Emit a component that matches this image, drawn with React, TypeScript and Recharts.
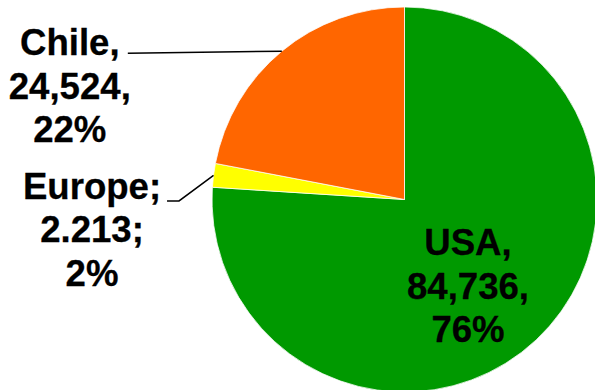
import type { CSSProperties, ReactNode } from "react";
import { Cell, Pie, PieChart } from "recharts";

// Slice order follows the chart: clockwise from 12 o'clock.
const categories = ["USA", "Europe", "Chile"];
const values = [84736, 2213, 24524];
const sliceColors = ["#009900", "#FFFF00", "#FF6600"];
// Excel label text uses a different list separator for the Europe label.
const separators = [",", ";", ","];
const thousandMarks = [",", ".", ","];

const data = categories.map((name, i) => ({ name, value: values[i] }));

const RAD = Math.PI / 180;
const LINE_HEIGHT = 43.5;

// Where each data label sits, relative to the slice's outer edge point
// (or to the pie centre for the label drawn inside its slice).
type LabelLayout =
  | { inside: true; dx: number; dy: number }
  | {
      inside: false;
      path: [number, number][];
      textDx: number;
      textDy: number;
    };

const labelLayout: LabelLayout[] = [
  { inside: true, dx: 63.5, dy: 55.5 },
  {
    inside: false,
    path: [
      [-34.5, 25.6],
      [-46.5, 25.6],
    ],
    textDx: -121.5,
    textDy: 23.6,
  },
  {
    inside: false,
    path: [[-154, 2]],
    textDx: -212,
    textDy: 4,
  },
];

function formatValue(v: number, mark: string): string {
  return String(v).replace(/\B(?=(\d{3})+(?!\d))/g, mark);
}

function renderLabel(props: any): ReactNode {
  const { cx, cy, midAngle, outerRadius, percent, index } = props;
  const sep = separators[index];
  const lines = [
    `${categories[index]}${sep}`,
    `${formatValue(values[index], thousandMarks[index])}${sep}`,
    `${Math.round(percent * 100)}%`,
  ];
  const layout = labelLayout[index];
  const ex = cx + outerRadius * Math.cos(-midAngle * RAD);
  const ey = cy + outerRadius * Math.sin(-midAngle * RAD);

  let tx: number;
  let ty: number;
  let leader: ReactNode = null;
  if (layout.inside) {
    tx = cx + layout.dx;
    ty = cy + layout.dy;
  } else {
    tx = ex + layout.textDx;
    ty = ey + layout.textDy;
    const pts = [[ex, ey], ...layout.path.map(([dx, dy]) => [ex + dx, ey + dy])];
    leader = (
      <polyline
        points={pts.map((p) => p.join(",")).join(" ")}
        fill="none"
        stroke="#000"
        strokeWidth={1.5}
      />
    );
  }

  return (
    <g key={`label-${index}`}>
      {leader}
      <text
        x={tx}
        y={ty}
        textAnchor="middle"
        style={styles.label}
        fill="#000"
        stroke="#000"
        strokeWidth={0.3}
      >
        {lines.map((line, i) => (
          <tspan key={i} x={tx} dy={i === 0 ? 0 : LINE_HEIGHT}>
            {line}
          </tspan>
        ))}
      </text>
    </g>
  );
}

export default function App() {
  return (
    <div style={styles.page}>
      <PieChart width={595} height={390} margin={{ top: 0, right: 0, bottom: 0, left: 0 }}>
        <Pie
          data={data}
          dataKey="value"
          nameKey="name"
          cx={404.5}
          cy={199.5}
          outerRadius={192.5}
          startAngle={90}
          endAngle={-270}
          stroke="#ffffff"
          strokeWidth={0.75}
          label={renderLabel}
          labelLine={false}
          isAnimationActive={false}
        >
          {data.map((entry, i) => (
            <Cell key={entry.name} fill={sliceColors[i]} />
          ))}
        </Pie>
      </PieChart>
    </div>
  );
}

const styles: Record<string, CSSProperties> = {
  page: {
    position: "absolute",
    left: 0,
    top: 0,
    width: 595,
    height: 390,
    background: "#ffffff",
    overflow: "hidden",
  },
  label: {
    fontFamily: '"Liberation Sans", Arial, Helvetica, sans-serif',
    fontSize: 36.6,
    fontWeight: 700,
  },
};
